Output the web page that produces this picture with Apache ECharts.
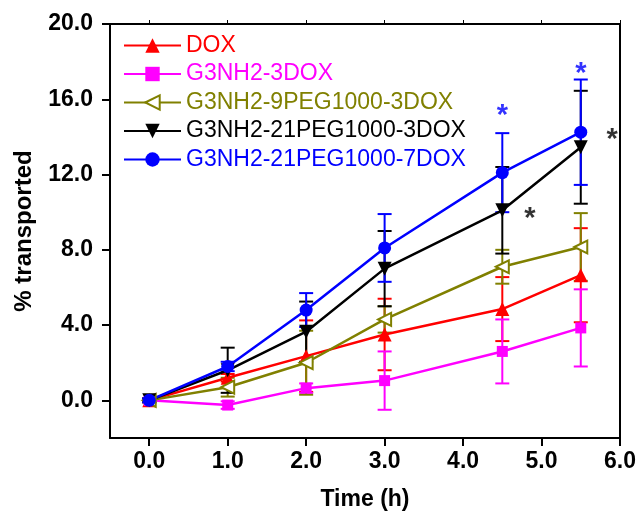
<!DOCTYPE html>
<html>
<head>
<meta charset="utf-8">
<script src="https://cdn.jsdelivr.net/npm/echarts@6/dist/echarts.min.js"></script>
<style>
  html, body { margin: 0; padding: 0; background: #fff; }
  #chart { width: 639px; height: 512px; }
</style>
</head>
<body>
<div id="chart"></div>
<script>
// time points (h)
const times = [0, 1, 2, 3, 4.5, 5.5]

// % transported, mean and error for each formulation
const dox = [0, 1.2, 2.35, 3.5, 4.85, 6.65]
const doxErr = [0.1, 0.2, 1.9, 1.9, 1.7, 2.5]
const g3Dox = [0, -0.25, 0.65, 1.05, 2.6, 3.85]
const g3DoxErr = [0.1, 0.2, 0.25, 1.55, 1.7, 2.05]
const peg9Dox = [0, 0.7, 2.0, 4.3, 7.1, 8.15]
const peg9DoxErr = [0.1, 0.5, 1.7, 0.7, 0.9, 1.8]
const peg21Dox3 = [0, 1.6, 3.65, 7.0, 10.1, 13.45]
const peg21Dox3Err = [0.1, 1.2, 1.6, 2.0, 2.3, 3.0]
const peg21Dox7 = [0, 1.8, 4.8, 8.1, 12.1, 14.25]
const peg21Dox7Err = [0.1, 0.25, 0.9, 1.8, 2.1, 2.8]

const names = ['DOX', 'G3NH2-3DOX', 'G3NH2-9PEG1000-3DOX', 'G3NH2-21PEG1000-3DOX', 'G3NH2-21PEG1000-7DOX']

// significance marks: [x, y, colour]
const stars = [
  [4.5, 15.1, '#0000ff'],
  [5.5, 17.35, '#0000ff'],
  [4.85, 9.65, '#000000'],
  [5.9, 13.85, '#000000']
]

const xTicks = [0, 1, 2, 3, 4, 5, 6]
const yTicks = [0, 4, 8, 12, 16, 20]

const FONT = "'Liberation Sans', Arial, sans-serif"

const groups = [
  { name: names[0], mean: dox, err: doxErr, color: '#ff0000', symbol: 'triangle', size: 14, rotate: 0 },
  { name: names[1], mean: g3Dox, err: g3DoxErr, color: '#ff00ff', symbol: 'rect', size: 11, rotate: 0 },
  { name: names[2], mean: peg9Dox, err: peg9DoxErr, color: '#808000', symbol: 'emptyTriangle', size: 13, rotate: 90 },
  { name: names[3], mean: peg21Dox3, err: peg21Dox3Err, color: '#000000', symbol: 'triangle', size: 14, rotate: 180 },
  { name: names[4], mean: peg21Dox7, err: peg21Dox7Err, color: '#0000ff', symbol: 'circle', size: 13, rotate: 0 }
]

function errorSeries (g) {
  return {
    type: 'custom',
    name: g.name + ' error',
    data: times.map((t, i) => [t, g.mean[i] - g.err[i], g.mean[i] + g.err[i]]),
    encode: { x: 0, y: [1, 2] },
    z: 2,
    silent: true,
    renderItem (params, api) {
      const lo = api.coord([api.value(0), api.value(1)])
      const hi = api.coord([api.value(0), api.value(2)])
      const w = 7
      const style = { stroke: g.color, lineWidth: 2 }
      return {
        type: 'group',
        children: [
          { type: 'line', shape: { x1: lo[0], y1: lo[1], x2: hi[0], y2: hi[1] }, style },
          { type: 'line', shape: { x1: lo[0] - w, y1: lo[1], x2: lo[0] + w, y2: lo[1] }, style },
          { type: 'line', shape: { x1: hi[0] - w, y1: hi[1], x2: hi[0] + w, y2: hi[1] }, style }
        ]
      }
    }
  }
}

function lineSeries (g) {
  const hollow = g.symbol.startsWith('empty')
  return {
    type: 'line',
    name: g.name,
    data: times.map((t, i) => [t, g.mean[i]]),
    z: 3,
    symbol: g.symbol,
    symbolSize: g.size,
    symbolRotate: g.rotate,
    lineStyle: { color: g.color, width: 2.5 },
    itemStyle: { color: g.color, borderColor: g.color, borderWidth: hollow ? 1.5 : 0 },
    emphasis: { disabled: true }
  }
}

const series = []
groups.forEach(g => {
  series.push(errorSeries(g))
  series.push(lineSeries(g))
})
series.push({
  type: 'scatter',
  name: 'stars',
  data: stars.map(s => ({ value: [s[0], s[1]], label: { color: s[2] } })),
  symbolSize: 0,
  z: 5,
  silent: true,
  label: {
    show: true,
    position: 'inside',
    formatter: '*',
    fontFamily: FONT,
    fontWeight: 'bold',
    fontSize: 29,
    textBorderWidth: 0
  }
})

const axisLine = { show: true, onZero: false, lineStyle: { color: '#000', width: 2 } }
const tickFont = { fontFamily: FONT, fontWeight: 'bold', fontSize: 23, color: '#000' }

const chart = echarts.init(document.getElementById('chart'))
chart.setOption({
  animation: false,
  grid: { left: 110, right: 19, top: 24, bottom: 74, outerBoundsMode: 'none', containLabel: false },
  legend: {
    orient: 'vertical',
    left: 118,
    top: 29,
    itemWidth: 57,
    itemHeight: 18,
    itemGap: 5.5,
    selectedMode: false,
    textStyle: { fontFamily: FONT, fontSize: 23 },
    data: groups.map(g => ({ name: g.name, textStyle: { color: g.color } }))
  },
  xAxis: [{
    type: 'value',
    min: -0.5,
    max: 6,
    name: 'Time (h)',
    nameLocation: 'middle',
    nameGap: 50,
    nameTextStyle: tickFont,
    axisLine,
    axisTick: { show: true, length: 8, lineStyle: { color: '#000', width: 2 }, customValues: xTicks },
    axisLabel: Object.assign({ margin: 12, customValues: xTicks, formatter: v => v.toFixed(1) }, tickFont),
    splitLine: { show: false }
  }, {
    type: 'value',
    position: 'top',
    min: -0.5,
    max: 6,
    axisLine,
    axisTick: { show: true, length: 4, lineStyle: { color: '#000', width: 1 }, customValues: xTicks },
    axisLabel: { show: false },
    splitLine: { show: false }
  }],
  yAxis: [{
    type: 'value',
    min: -2,
    max: 20,
    name: '% transported',
    nameLocation: 'middle',
    nameGap: 74,
    nameTextStyle: Object.assign({}, tickFont, { fontSize: 24 }),
    axisLine,
    axisTick: { show: true, length: 8, lineStyle: { color: '#000', width: 2 }, customValues: yTicks },
    axisLabel: Object.assign({ margin: 17, customValues: yTicks, formatter: v => v.toFixed(1) }, tickFont),
    splitLine: { show: false }
  }, {
    type: 'value',
    position: 'right',
    min: -2,
    max: 20,
    axisLine,
    axisTick: { show: false },
    axisLabel: { show: false },
    splitLine: { show: false }
  }],
  series
})
</script>
</body>
</html>
